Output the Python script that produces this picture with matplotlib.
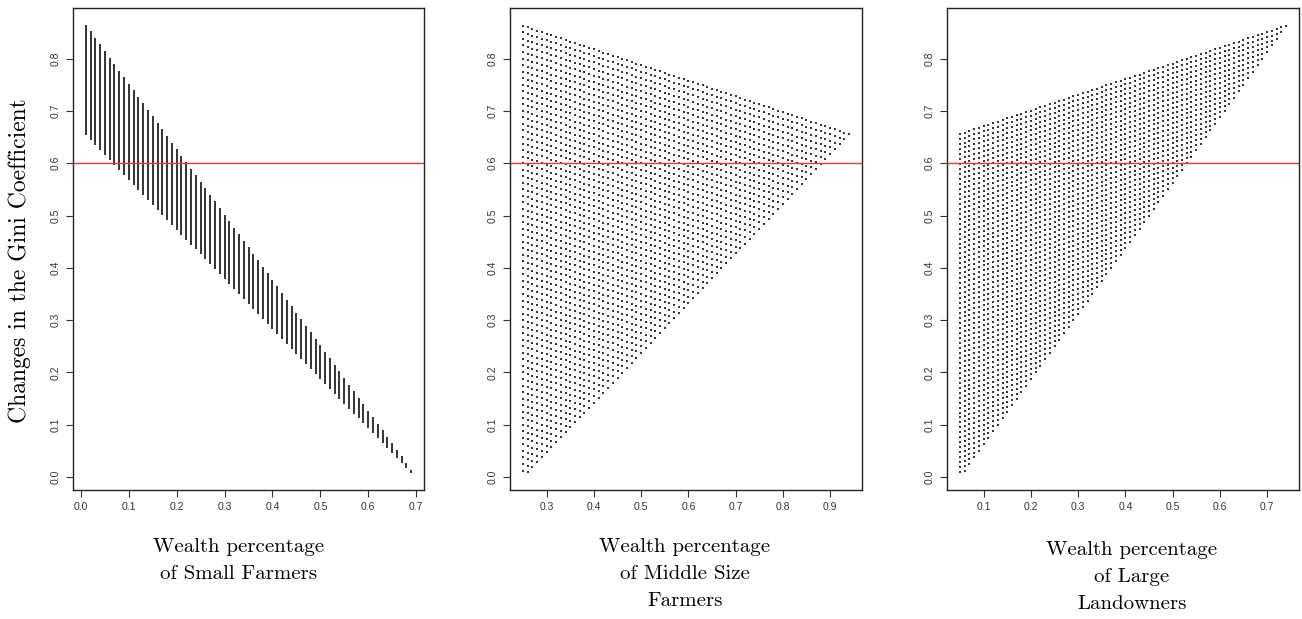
import numpy as np
import matplotlib.pyplot as plt

# population shares of the three groups (small farmers, middle size farmers, large landowners)
pop_shares = [0.70, 0.25, 0.05]

# wealth shares on the simulation grid
small_share = [0.01, 0.02, 0.03, 0.04, 0.05, 0.06, 0.07, 0.08, 0.09, 0.10,
               0.11, 0.12, 0.13, 0.14, 0.15, 0.16, 0.17, 0.18, 0.19, 0.20,
               0.21, 0.22, 0.23, 0.24, 0.25, 0.26, 0.27, 0.28, 0.29, 0.30,
               0.31, 0.32, 0.33, 0.34, 0.35, 0.36, 0.37, 0.38, 0.39, 0.40,
               0.41, 0.42, 0.43, 0.44, 0.45, 0.46, 0.47, 0.48, 0.49, 0.50,
               0.51, 0.52, 0.53, 0.54, 0.55, 0.56, 0.57, 0.58, 0.59, 0.60,
               0.61, 0.62, 0.63, 0.64, 0.65, 0.66, 0.67, 0.68, 0.69]
middle_share = [0.25, 0.26, 0.27, 0.28, 0.29, 0.30, 0.31, 0.32, 0.33, 0.34,
                0.35, 0.36, 0.37, 0.38, 0.39, 0.40, 0.41, 0.42, 0.43, 0.44,
                0.45, 0.46, 0.47, 0.48, 0.49, 0.50, 0.51, 0.52, 0.53, 0.54,
                0.55, 0.56, 0.57, 0.58, 0.59, 0.60, 0.61, 0.62, 0.63, 0.64,
                0.65, 0.66, 0.67, 0.68, 0.69, 0.70, 0.71, 0.72, 0.73, 0.74,
                0.75, 0.76, 0.77, 0.78, 0.79, 0.80, 0.81, 0.82, 0.83, 0.84,
                0.85, 0.86, 0.87, 0.88, 0.89, 0.90, 0.91, 0.92, 0.93, 0.94]
large_min = 0.05
ref_gini = 0.6

x_ticks = [[0.0, 0.1, 0.2, 0.3, 0.4, 0.5, 0.6, 0.7],
           [0.3, 0.4, 0.5, 0.6, 0.7, 0.8, 0.9],
           [0.1, 0.2, 0.3, 0.4, 0.5, 0.6, 0.7]]
y_ticks = [0.0, 0.1, 0.2, 0.3, 0.4, 0.5, 0.6, 0.7, 0.8]
x_labels = ["Wealth percentage\nof Small Farmers",
            "Wealth percentage\nof Middle Size\nFarmers",
            "Wealth percentage\nof Large\nLandowners"]

# build the grid and the Gini coefficient of the grouped distribution
S, M = np.meshgrid(small_share, middle_share)
L = np.round(1 - S - M, 2)
keep = L >= large_min
S, M, L = S[keep], M[keep], L[keep]
p1, p2, p3 = pop_shares
gini = 1 - (p1 * S + p2 * (2 * S + M) + p3 * (2 * S + 2 * M + L))

fig = plt.figure(figsize=(13.02, 6.19), dpi=100)
W, H = 1302, 619
boxes = [(72.7, 424.3), (510, 862), (947, 1299)]
top, bottom = 8, 490
xs = [S, M, L]
label_pos = [(239, 538), (685, 538), (1132, 541)]

for i in range(3):
    x0, x1 = boxes[i]
    ax = fig.add_axes([x0 / W, 1 - bottom / H, (x1 - x0) / W, (bottom - top) / H])
    ax.scatter(xs[i], gini, marker='s', s=1.9, c='#383838', linewidths=0)
    ax.margins(x=0.04, y=0.04)
    ax.axhline(ref_gini, color='#e83a3a', lw=1.0)
    ax.set_xticks(x_ticks[i])
    ax.set_yticks(y_ticks)
    ax.set_xticklabels([f"{v:.1f}" for v in x_ticks[i]], fontsize=7.5, family='Liberation Sans')
    ax.set_yticklabels([f"{v:.1f}" for v in y_ticks], fontsize=7.5, family='Liberation Sans',
                       rotation=90, va='center')
    ax.tick_params(direction='out', length=5, width=0.8, pad=4, colors='#333333')
    for sp in ax.spines.values():
        sp.set_linewidth(1.0)
        sp.set_color('#222222')
    lx, ly = label_pos[i]
    fig.text(lx / W, 1 - ly / H, x_labels[i], ha='center', va='top', fontsize=15,
             family='cmr10', linespacing=1.65)

fig.text(20 / W, 1 - 261 / H, "Changes in the Gini Coefficient", rotation=90,
         ha='center', va='center', fontsize=17, family='cmr10')

fig.savefig("out.png", dpi=100)
